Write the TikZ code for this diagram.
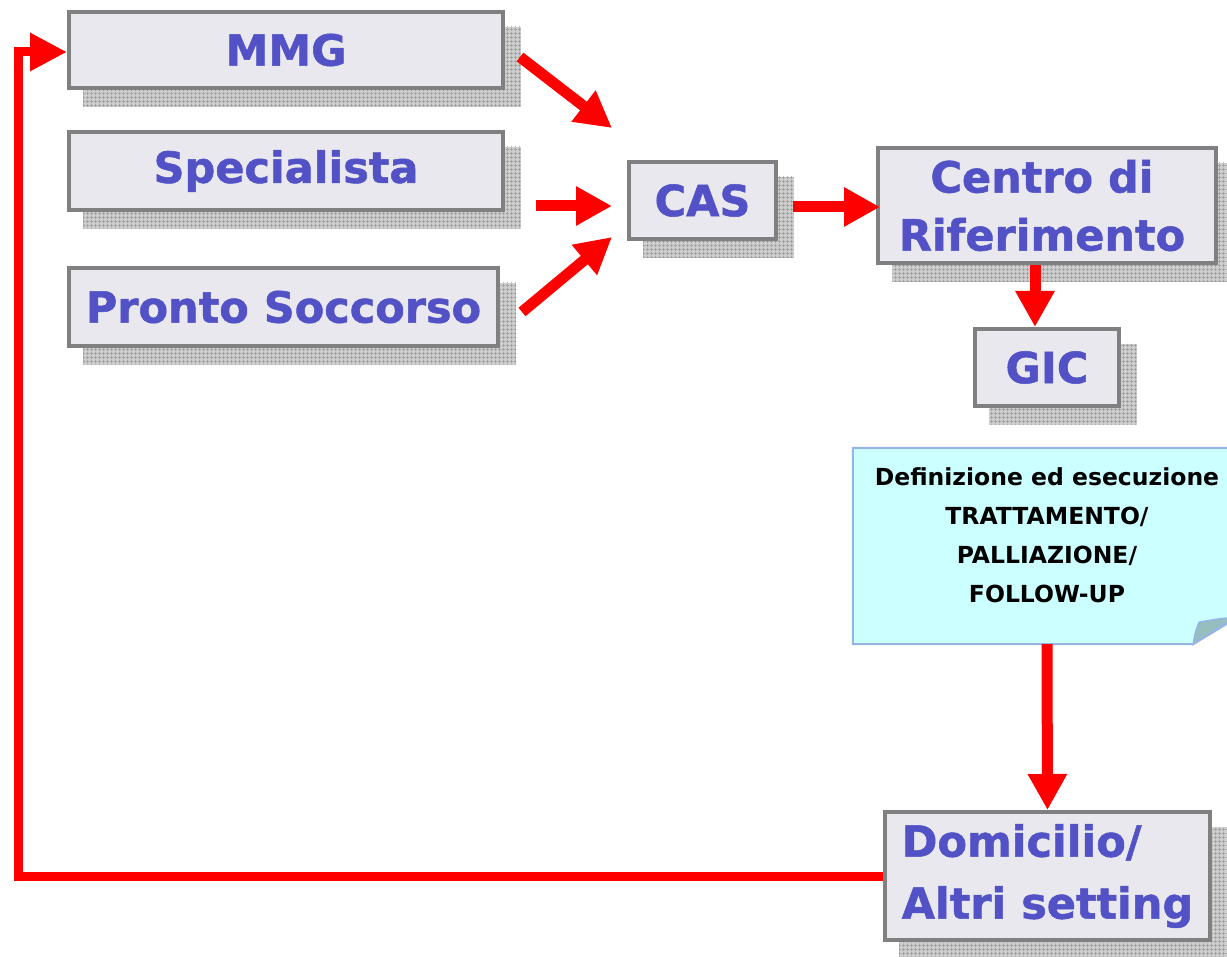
\documentclass[tikz,border=0pt]{standalone}
\usepackage{fontspec}
\setmainfont{DejaVu Sans}
\newfontfamily\boxfont{DejaVu Sans}[FakeBold=1.2]
\usetikzlibrary{arrows.meta,patterns.meta,backgrounds}
\definecolor{boxtext}{RGB}{82,82,198}
\definecolor{boxfill}{RGB}{232,232,238}
\definecolor{boxline}{RGB}{128,128,128}
\definecolor{notefill}{RGB}{204,255,255}
\definecolor{noteline}{RGB}{150,180,230}
\definecolor{foldfill}{RGB}{150,190,190}
\definecolor{shadowbase}{RGB}{205,205,205}
\definecolor{shadowline}{RGB}{150,150,150}
\begin{document}
\begin{tikzpicture}[x=1pt,y=-1pt,
  box/.style={draw=boxline, line width=4pt, fill=boxfill, inner sep=0pt,
    font=\boxfont\fontsize{43}{58}\selectfont\bfseries, text=boxtext, align=center},
  redarrow/.style={draw=red, line width=11pt, -{Triangle[length=36pt,width=37pt]}},
  redloop/.style={draw=red, line width=9pt, -{Triangle[length=37pt,width=36pt]}},
  notetext/.style={font=\fontsize{23.5}{39}\selectfont\bfseries, text=black, align=center, inner sep=0pt},
  shadowfill/.style={fill=shadowbase},
  shadowgrid/.style={pattern={Hatch[angle=0,distance=4pt,line width=0.7pt]}, pattern color=shadowline},
]
\clip (0,0) rectangle (1227,957);

% boxes
\node[box, minimum width=434pt, minimum height=76pt] (mmg) at (286,50) {MMG};
\node[box, minimum width=434pt, minimum height=78pt] (spec) at (286,171) {Specialista};
\node[box, minimum width=429pt, minimum height=78pt] (ps) at (283.5,307) {Pronto Soccorso};
\node[box, minimum width=147pt, minimum height=77pt] (cas) at (702.5,200.5) {CAS};
\node[box, minimum width=338pt, minimum height=115pt] (centro) at (1047,205.5) {\hspace*{-10pt}Centro di\\\hspace*{-10pt}Riferimento};
\node[box, minimum width=144pt, minimum height=77pt] (gic) at (1047,367.5) {GIC};
\node[box, minimum width=325pt, minimum height=128pt, align=left,
  font=\boxfont\fontsize{43}{62}\selectfont\bfseries] (dom) at (1047.5,876) {Domicilio/\\Altri setting};

% shadows
\begin{scope}[on background layer]
  \foreach \n in {mmg,spec,ps,cas,centro,gic,dom}{
    \fill[shadowfill] ([shift={(16pt,-17pt)}]\n.north west) rectangle ([shift={(16pt,-17pt)}]\n.south east);
    \fill[shadowgrid] ([shift={(16pt,-17pt)}]\n.north west) rectangle ([shift={(16pt,-17pt)}]\n.south east);
  }
\end{scope}

% note
\node[minimum width=388pt, minimum height=196pt, inner sep=0pt] (note) at (1047,546) {};
\draw[draw=noteline, line width=2pt, fill=notefill]
  (note.north west) -- (note.north east) -- ([yshift=29pt]note.south east)
  -- ([xshift=-48pt]note.south east) -- (note.south west) -- cycle;
\draw[draw=noteline, line width=1.5pt, fill=foldfill]
  ([xshift=-48pt]note.south east) .. controls ([shift={(-46pt,12pt)}]note.south east) .. ([shift={(-42pt,22pt)}]note.south east)
  .. controls ([shift={(-25pt,25pt)}]note.south east) .. ([shift={(-6pt,27pt)}]note.south east) -- cycle;
\node[notetext] (notetxt) at ([yshift=11pt]note.center)
  {Definizione ed esecuzione\\TRATTAMENTO/\\PALLIAZIONE/\\FOLLOW-UP};

% arrows
\draw[redarrow] ([shift={(15pt,-7pt)}]mmg.east) -- ([shift={(-15pt,32pt)}]cas.north west);
\draw[redarrow] ([shift={(31pt,-35pt)}]spec.east) -- ([shift={(-15pt,-5.5pt)}]cas.west);
\draw[redarrow] ([shift={(22pt,-5pt)}]ps.east) -- ([shift={(-15pt,4pt)}]cas.south west);
\draw[redarrow] ([shift={(15pt,-6.5pt)}]cas.east) -- ([shift={(4pt,-1.5pt)}]centro.west);
\draw[redarrow] ([xshift=-12pt]centro.south) -- ([xshift=-12pt]gic.north);
\draw[redarrow] (note.south) -- (dom.north);
\coordinate (loopcorner) at (18,52);
\draw[redloop] (dom.west) -| (loopcorner) -- ([yshift=-2pt]mmg.west);
\end{tikzpicture}
\end{document}
